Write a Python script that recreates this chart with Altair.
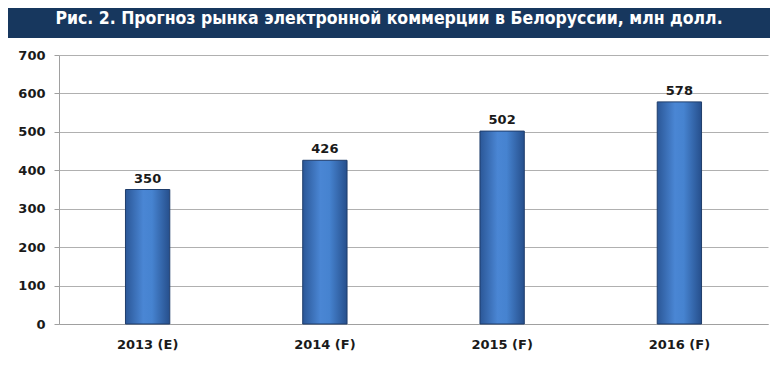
import altair as alt
import pandas as pd

categories = ["2013 (E)", "2014 (F)", "2015 (F)", "2016 (F)"]
values = [350, 426, 502, 578]
y_ticks = [0, 100, 200, 300, 400, 500, 600, 700]
title_text = "Рис. 2. Прогноз рынка электронной коммерции  в Белоруссии, млн долл."

df = pd.DataFrame({"cat": categories, "val": values})
W, H = 709, 269

grad = alt.Gradient(
    gradient="linear",
    x1=0, x2=1, y1=0, y2=0,
    stops=[
        alt.GradientStop(color="#2b5797", offset=0),
        alt.GradientStop(color="#4a86d4", offset=0.4),
        alt.GradientStop(color="#4683d0", offset=0.6),
        alt.GradientStop(color="#264f8c", offset=1),
    ],
)

x = alt.X("cat:N", sort=categories, title=None,
          scale=alt.Scale(paddingInner=0, paddingOuter=0),
          axis=alt.Axis(labelAngle=0, labelFont="DejaVu Sans", labelFontWeight="bold",
                        labelFontSize=13, labelColor="#1a1a1a", labelPadding=14,
                        ticks=False, domainColor="#a0a0a0", grid=False))
y = alt.Y("val:Q", title=None,
          scale=alt.Scale(domain=[0, 700]),
          axis=alt.Axis(values=y_ticks, labelFont="DejaVu Sans",
                        labelFontWeight="bold", labelFontSize=13, labelColor="#1a1a1a",
                        labelPadding=9, tickSize=5, tickColor="#a0a0a0",
                        labelOverlap=False, labelFlush=False,
                        domainColor="#a0a0a0", gridColor="#b0b0b0"))

bars = alt.Chart(df).mark_bar(color=grad, width=alt.RelativeBandSize(0.25),
                              stroke="#1f3d6b", strokeWidth=1).encode(x=x, y=y)

labels = alt.Chart(df).mark_text(dy=-11, font="DejaVu Sans", fontWeight="bold",
                                 fontSize=13, color="#1a1a1a").encode(
    x=x, y=y, text="val:Q")

tdf = pd.DataFrame({"t": [title_text]})
band = alt.Chart(tdf).mark_rect(color="#17375e").encode(
    x=alt.value(-60), x2=alt.value(W + 10), y=alt.value(-60), y2=alt.value(-17))
title = alt.Chart(tdf).mark_text(font="'DejaVu Sans Condensed', 'Roboto Condensed', Roboto",
                                 fontWeight="bold",
                                 fontSize=17.5, color="white", align="center",
                                 baseline="middle").encode(
    x=alt.value(330), y=alt.value(-36), text="t:N")

chart = alt.layer(bars, labels, band, title).properties(
    width=W, height=H,
    padding={"left": 51, "top": 47, "right": 2, "bottom": 40},
    autosize=alt.AutoSizeParams(type="none"),
    background="white",
).configure_view(stroke=None)

chart.save("out.html", embed_options={"renderer": "svg", "actions": False})
